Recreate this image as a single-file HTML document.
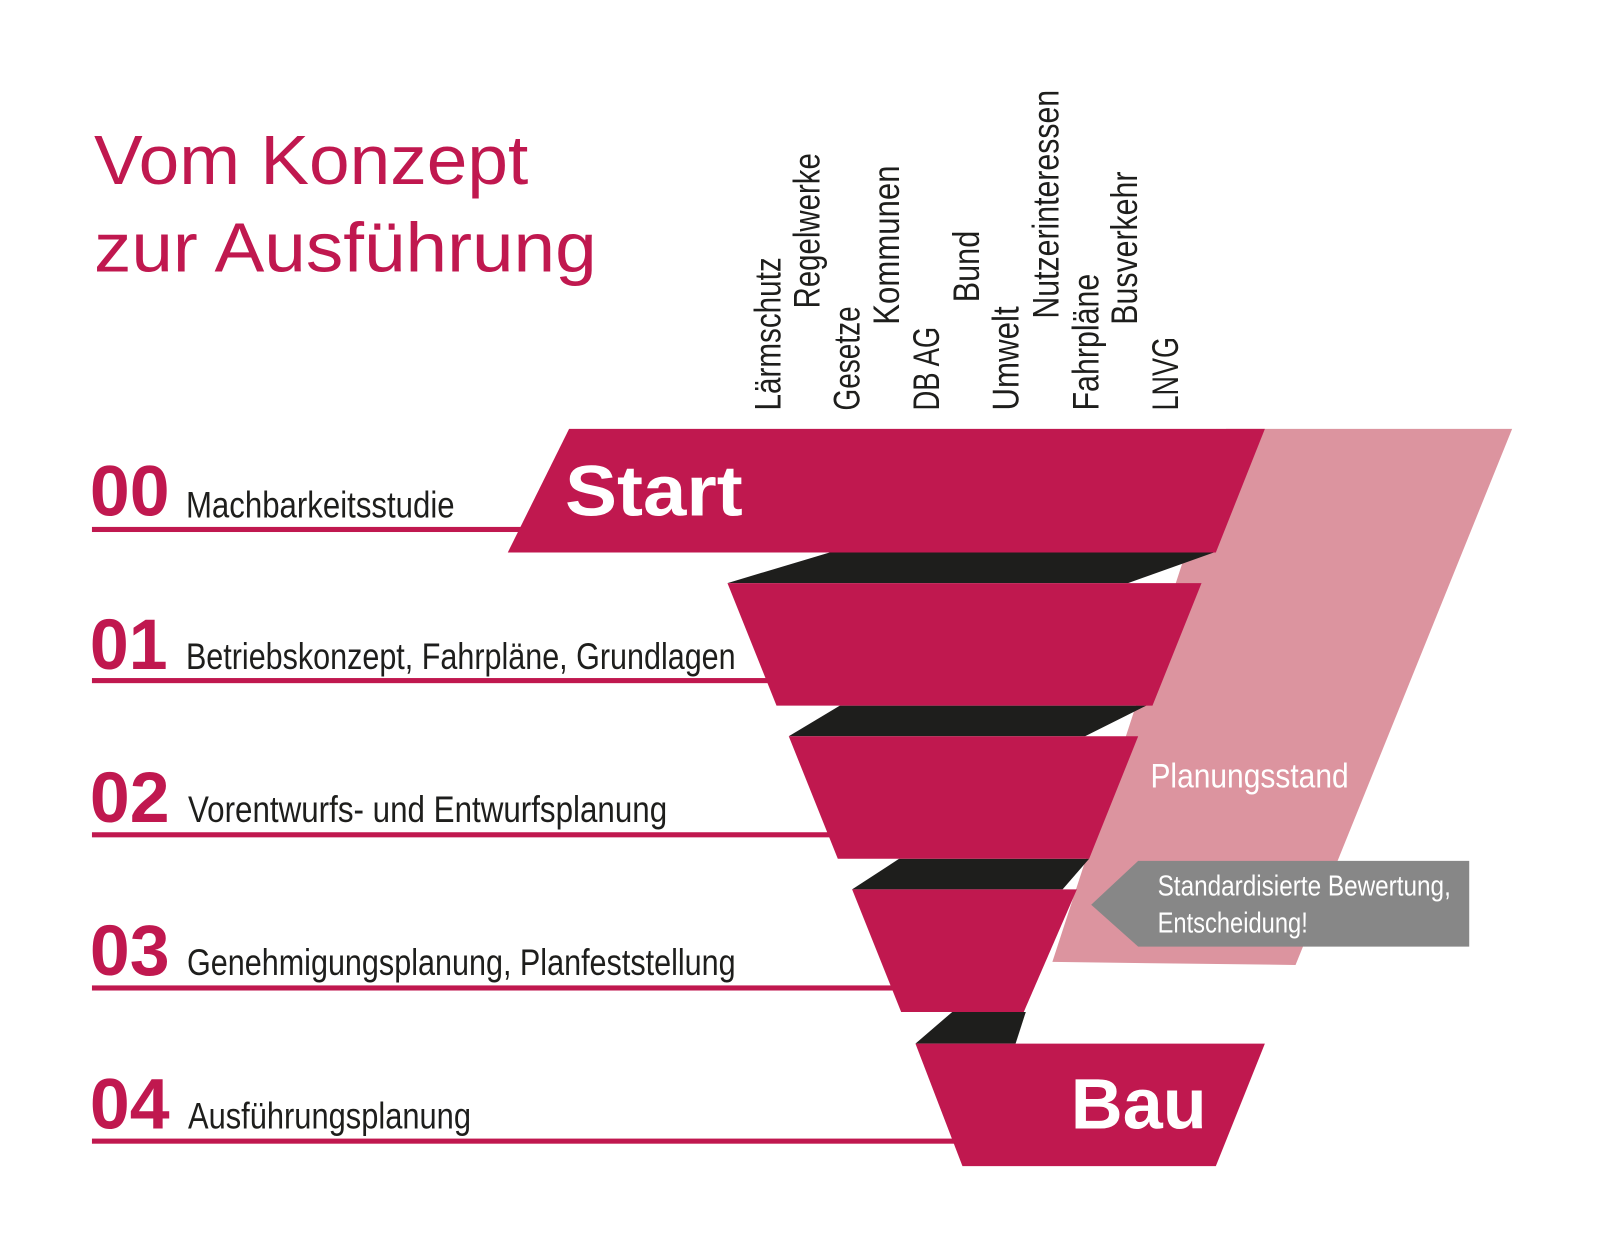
<!DOCTYPE html>
<html><head><meta charset="utf-8"><style>
html,body{margin:0;padding:0;background:#fff;}
svg{display:block;}
text{font-family:"Liberation Sans",sans-serif;}
</style></head><body>
<svg width="1600" height="1255" viewBox="0 0 1566 1229" preserveAspectRatio="none" xmlns="http://www.w3.org/2000/svg">
<rect width="1566" height="1229" fill="#fff"/>
<text x="92" y="180" font-size="68" fill="#c0184f" textLength="425" lengthAdjust="spacingAndGlyphs">Vom Konzept</text>
<text x="92" y="266" font-size="68" fill="#c0184f" textLength="492" lengthAdjust="spacingAndGlyphs">zur Ausführung</text>
<g fill="#c0184f">
<rect x="90" y="516" width="425" height="5"/>
<rect x="90" y="664" width="665" height="5"/>
<rect x="90" y="815" width="725" height="5"/>
<rect x="90" y="965" width="790" height="5"/>
<rect x="90" y="1115" width="850" height="5"/>
</g>
<polygon points="1200,420 1480,420 1268,945 1030,942" fill="#dc949f"/>
<g fill="#1e1e1c">
<polygon points="812,541 1188,541 1104,571 712,571"/>
<polygon points="822,691 1122,691 1062,721 772,721"/>
<polygon points="880,841 1066,841 1040,871 834,871"/>
<polygon points="932,991 1004,991 994,1022 896,1022"/>
</g>
<g fill="#c0184f">
<polygon points="557,420 1238,420 1190,541 497,541"/>
<polygon points="712,571 1176,571 1128,691 760,691"/>
<polygon points="772,721 1114,721 1066,841 820,841"/>
<polygon points="834,871 1054,871 1002,991 882,991"/>
<polygon points="896,1022 1238,1022 1190,1142 942,1142"/>
</g>
<polygon points="1068,886 1114,843 1438,843 1438,927 1114,927" fill="#878787"/>
<text x="1133" y="877" font-size="28" fill="#fff" textLength="287" lengthAdjust="spacingAndGlyphs">Standardisierte Bewertung,</text>
<text x="1133" y="913" font-size="28" fill="#fff" textLength="147" lengthAdjust="spacingAndGlyphs">Entscheidung!</text>
<text x="1126" y="771" font-size="34" fill="#fff" textLength="194" lengthAdjust="spacingAndGlyphs">Planungsstand</text>
<text x="553" y="505" font-size="70" font-weight="bold" fill="#fff" textLength="174" lengthAdjust="spacingAndGlyphs">Start</text>
<text x="1048" y="1105" font-size="70" font-weight="bold" fill="#fff" textLength="133" lengthAdjust="spacingAndGlyphs">Bau</text>
<g font-size="70" font-weight="bold" fill="#c0184f">
<text x="88" y="505" textLength="78" lengthAdjust="spacingAndGlyphs">00</text>
<text x="88" y="655" textLength="76" lengthAdjust="spacingAndGlyphs">01</text>
<text x="88" y="805" textLength="78" lengthAdjust="spacingAndGlyphs">02</text>
<text x="88" y="955" textLength="78" lengthAdjust="spacingAndGlyphs">03</text>
<text x="88" y="1105" textLength="78" lengthAdjust="spacingAndGlyphs">04</text>
</g>
<g font-size="36" fill="#1e1e1c">
<text x="182" y="507" textLength="263" lengthAdjust="spacingAndGlyphs">Machbarkeitsstudie</text>
<text x="182" y="655" textLength="538" lengthAdjust="spacingAndGlyphs">Betriebskonzept, Fahrpläne, Grundlagen</text>
<text x="184" y="805" textLength="469" lengthAdjust="spacingAndGlyphs">Vorentwurfs- und Entwurfsplanung</text>
<text x="183" y="955" textLength="537" lengthAdjust="spacingAndGlyphs">Genehmigungsplanung, Planfeststellung</text>
<text x="184" y="1105" textLength="277" lengthAdjust="spacingAndGlyphs">Ausführungsplanung</text>
</g>
<g font-size="36" fill="#1e1e1c">
<text transform="translate(764,402) rotate(-90)" textLength="150" lengthAdjust="spacingAndGlyphs">Lärmschutz</text>
<text transform="translate(802,302) rotate(-90)" textLength="152" lengthAdjust="spacingAndGlyphs">Regelwerke</text>
<text transform="translate(841,402) rotate(-90)" textLength="102" lengthAdjust="spacingAndGlyphs">Gesetze</text>
<text transform="translate(880,318) rotate(-90)" textLength="156" lengthAdjust="spacingAndGlyphs">Kommunen</text>
<text transform="translate(919,402) rotate(-90)" textLength="82" lengthAdjust="spacingAndGlyphs">DB AG</text>
<text transform="translate(958,296) rotate(-90)" textLength="70" lengthAdjust="spacingAndGlyphs">Bund</text>
<text transform="translate(997,402) rotate(-90)" textLength="102" lengthAdjust="spacingAndGlyphs">Umwelt</text>
<text transform="translate(1036,312) rotate(-90)" textLength="224" lengthAdjust="spacingAndGlyphs">Nutzerinteressen</text>
<text transform="translate(1075,402) rotate(-90)" textLength="134" lengthAdjust="spacingAndGlyphs">Fahrpläne</text>
<text transform="translate(1113,318) rotate(-90)" textLength="150" lengthAdjust="spacingAndGlyphs">Busverkehr</text>
<text transform="translate(1153,402) rotate(-90)" textLength="72" lengthAdjust="spacingAndGlyphs">LNVG</text>
</g>
</svg>
</body></html>
